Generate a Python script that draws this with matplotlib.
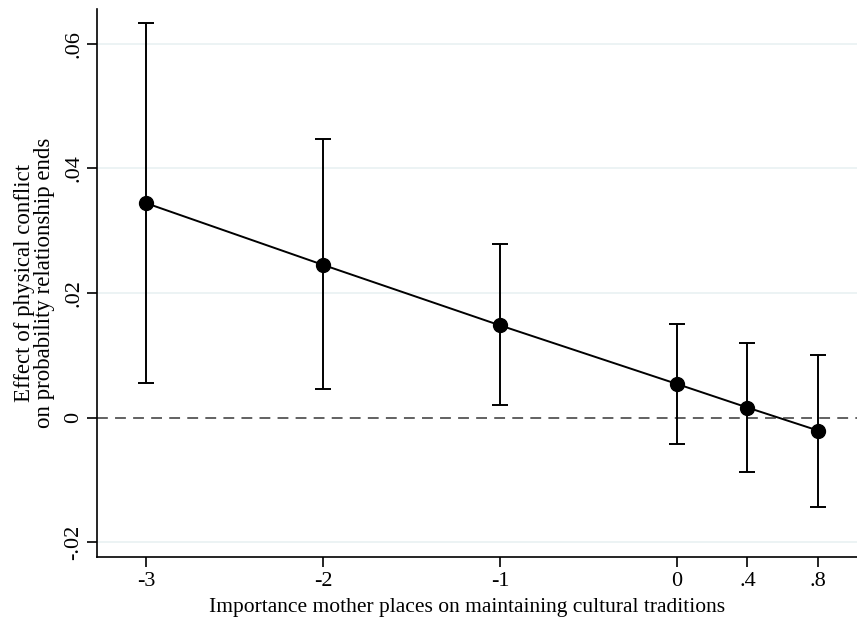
import numpy as np
import matplotlib.pyplot as plt

# Marginal effects
x_vals = [-3, -2, -1, 0, 0.4, 0.8]
effect = [0.0344, 0.0245, 0.0148, 0.0054, 0.0016, -0.0021]
ci_low = [0.0055, 0.0045, 0.0020, -0.0043, -0.0088, -0.0143]
ci_high = [0.0633, 0.0447, 0.0279, 0.0150, 0.0119, 0.0101]
x_ticks = [-3, -2, -1, 0, 0.4, 0.8]
x_labels = ['-3', '-2', '-1', '0', '.4', '.8']
y_ticks = [-0.02, 0, 0.02, 0.04, 0.06]
y_labels = ['-.02', '0', '.02', '.04', '.06']

plt.rcParams['font.family'] = ['Liberation Serif', 'DejaVu Serif']

fig = plt.figure(figsize=(8.57, 6.19), dpi=100)
ax = fig.add_axes([97/857, 1 - 557/619, 1 - 97/857, (557 - 9)/619])

for yt in y_ticks:
    if yt != 0:
        ax.axhline(yt, color='#eaf2f3', lw=1.3, zorder=0)
ax.axhline(0, color='#555555', lw=1.3, ls=(0, (6, 4)), zorder=1)

x = np.array(x_vals)
y = np.array(effect)
err = [y - np.array(ci_low), np.array(ci_high) - y]
ax.errorbar(x, y, yerr=err, fmt='none', ecolor='black', elinewidth=1.4,
            capsize=6, capthick=1.4, zorder=2)
ax.plot(x, y, color='black', lw=1.4, marker='o', markersize=10, zorder=3)

ax.set_xlim(-3.28, 1.02)
ax.set_ylim(-0.0224, 0.0656)
ax.set_xticks(x_ticks)
ax.set_xticklabels(x_labels)
ax.set_yticks(y_ticks)
ax.set_yticklabels(y_labels, rotation=90, va='center')

ax.spines['top'].set_visible(False)
ax.spines['right'].set_visible(False)
ax.spines['left'].set_linewidth(1.2)
ax.spines['bottom'].set_linewidth(1.2)
ax.tick_params(axis='both', direction='out', length=7, width=1.2, labelsize=16)
ax.tick_params(axis='y', pad=3)

ax.set_xlabel('Importance mother places on maintaining cultural traditions', fontsize=15.5)
ax.xaxis.set_label_coords((467.5 - 97) / 760, -0.074)
ax.set_ylabel('Effect of physical conflict\non probability relationship ends', fontsize=16.5,
              linespacing=0.95)
ax.yaxis.set_label_coords((55 - 97) / 760, 0.5)

fig.savefig('out.png', dpi=100)
